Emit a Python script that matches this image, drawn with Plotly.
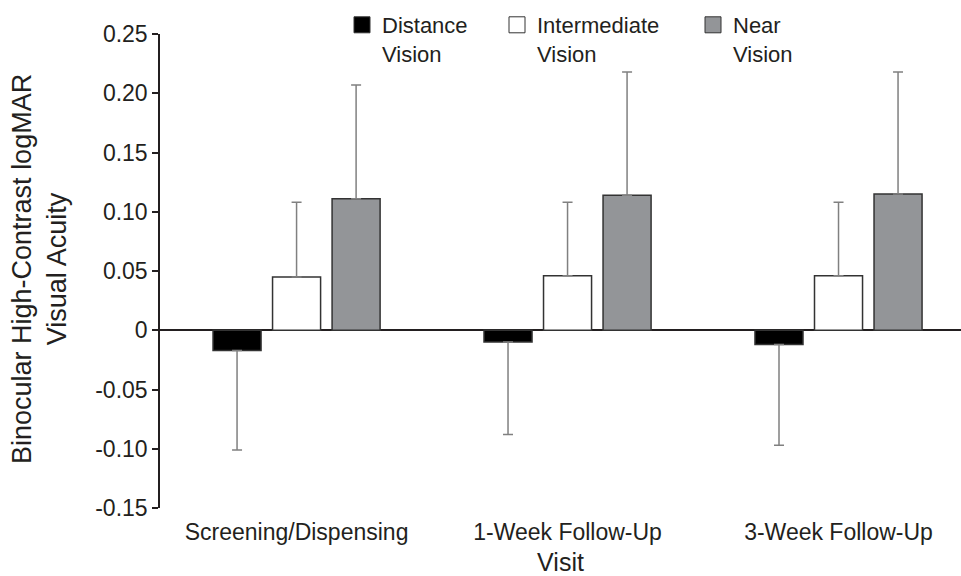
import plotly.graph_objects as go

visits = ["Screening/Dispensing", "1-Week Follow-Up", "3-Week Follow-Up"]
series = ["Distance<br>Vision", "Intermediate<br>Vision", "Near<br>Vision"]

distance = [-0.017, -0.010, -0.012]
distance_err = [0.084, 0.078, 0.085]
intermediate = [0.045, 0.046, 0.046]
intermediate_err = [0.063, 0.062, 0.062]
near = [0.111, 0.114, 0.115]
near_err = [0.096, 0.104, 0.103]

y_ticks = [0.25, 0.20, 0.15, 0.10, 0.05, 0, -0.05, -0.10, -0.15]
y_ticktext = ["0.25", "0.20", "0.15", "0.10", "0.05", "0", "-0.05", "-0.10", "-0.15"]
y_title = "Binocular High-Contrast logMAR<br>Visual Acuity"
x_title = "Visit"

FONT = "Liberation Sans, Arial, Helvetica, sans-serif"
TXT = "#231f20"
EDGE = "#333333"
ERR = "#808080"
fills = ["#000000", "#ffffff", "#939598"]

fig = go.Figure()

vals = [distance, intermediate, near]
errs = [distance_err, intermediate_err, near_err]
for i, (v, e) in enumerate(zip(vals, errs)):
    neg = v[0] < 0
    fig.add_trace(go.Bar(
        x=visits, y=v,
        marker=dict(color=fills[i], line=dict(color=EDGE, width=1.5)),
        error_y=dict(type="data", symmetric=False,
                     array=[0] * len(e) if neg else e,
                     arrayminus=e if neg else [0] * len(e),
                     color=ERR, thickness=1.5, width=5),
        showlegend=False,
    ))

legends = ["legend", "legend2", "legend3"]
for i, name in enumerate(series):
    fig.add_trace(go.Scatter(
        x=[visits[0]], y=[None], mode="markers", name=name,
        marker=dict(symbol="square", size=16, color=fills[i],
                    line=dict(color=EDGE, width=1)),
        legend=legends[i], showlegend=True, hoverinfo="skip",
    ))

leg_x = [342.0, 497.0, 693.0]
common = dict(xref="container", yref="container", xanchor="left", yanchor="top",
              y=1 - 4 / 576, valign="top", bgcolor="rgba(0,0,0,0)", borderwidth=0,
              font=dict(family=FONT, size=22, color=TXT), itemwidth=30)
fig.update_layout(
    legend=dict(x=leg_x[0] / 961, **common),
    legend2=dict(x=leg_x[1] / 961, **common),
    legend3=dict(x=leg_x[2] / 961, **common),
)

fig.add_annotation(
    text=y_title, textangle=-90, xref="paper", yref="paper",
    x=(39 - 160) / 801, y=(508 - 269) / 474, xanchor="center", yanchor="middle",
    showarrow=False, font=dict(family=FONT, size=27, color=TXT),
)

fig.update_layout(
    width=961, height=576,
    margin=dict(l=160, r=0, t=34, b=68, autoexpand=False),
    paper_bgcolor="white", plot_bgcolor="white",
    barmode="group", bargap=0.341, bargroupgap=0.193,
    font=dict(family=FONT, size=23, color=TXT),
    xaxis=dict(
        type="category", range=[-0.504, 2.452], automargin=False,
        showline=False, showgrid=False, zeroline=False, ticks="",
        tickfont=dict(size=23), ticklabelstandoff=8,
        title=dict(text=x_title, font=dict(size=25), standoff=10),
    ),
    yaxis=dict(
        range=[-0.15, 0.25], tickvals=y_ticks, ticktext=y_ticktext,
        automargin=False,
        showline=True, linecolor=TXT, linewidth=1.5,
        ticks="outside", ticklen=6, tickwidth=1.5, tickcolor=TXT,
        showgrid=False, zeroline=True, zerolinecolor=TXT, zerolinewidth=2,
        tickfont=dict(size=23),
    ),
)

fig.write_html("out.html")
